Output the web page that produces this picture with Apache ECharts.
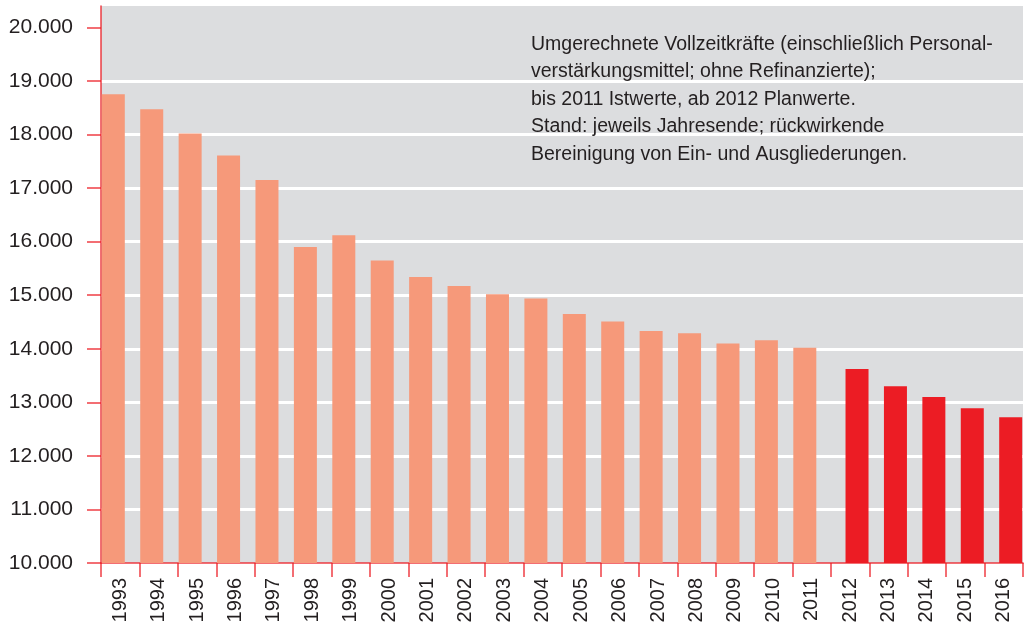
<!DOCTYPE html>
<html>
<head>
<meta charset="utf-8">
<script src="https://cdn.jsdelivr.net/npm/echarts@6/dist/echarts.min.js"></script>
<style>
  html, body { margin: 0; padding: 0; background: #ffffff; }
  #chart { width: 1026px; height: 628px; }
</style>
</head>
<body>
<div id="chart"></div>
<script>
// Jahre und Vollzeitkräfte (Istwerte bis 2011, Planwerte ab 2012)
const years = ['1993','1994','1995','1996','1997','1998','1999','2000','2001','2002','2003','2004',
               '2005','2006','2007','2008','2009','2010','2011','2012','2013','2014','2015','2016'];
const istwerte = [18750, 18470, 18020, 17610, 17150, 15900, 16120, 15650, 15340, 15170, 15020, 14940,
                  14650, 14510, 14330, 14290, 14100, 14160, 14020, null, null, null, null, null];
const planwerte = [null, null, null, null, null, null, null, null, null, null, null, null,
                   null, null, null, null, null, null, null, 13620, 13300, 13100, 12890, 12720];
const yTicks = [10000, 11000, 12000, 13000, 14000, 15000, 16000, 17000, 18000, 19000, 20000];

const noteLines = [
  'Umgerechnete Vollzeitkräfte (einschließlich Personal-',
  'verstärkungsmittel; ohne Refinanzierte);',
  'bis 2011 Istwerte, ab 2012 Planwerte.',
  'Stand: jeweils Jahresende; rückwirkende',
  'Bereinigung von Ein- und Ausgliederungen.'
];

const fmt = v => String(v).replace(/\B(?=(\d{3})+(?!\d))/g, '.');

const axisRed = 'rgba(236, 28, 36, 0.85)';
const fontFam = '"Liberation Sans", Arial, Helvetica, sans-serif';

const chart = echarts.init(document.getElementById('chart'));
chart.setOption({
  animation: false,
  title: {
    text: noteLines.join('\n'),
    left: 531,
    top: 31,
    padding: 0,
    textStyle: {
      fontFamily: fontFam,
      fontSize: 19.5,
      fontWeight: 'normal',
      color: '#231f20',
      lineHeight: 27.4
    }
  },
  grid: {
    left: 101,
    right: 3,
    top: 6,
    bottom: 65,
    show: true,
    backgroundColor: '#dcdddf',
    borderWidth: 0
  },
  xAxis: {
    type: 'category',
    data: years,
    boundaryGap: true,
    axisLine: { show: true, lineStyle: { color: axisRed, width: 1.5 } },
    axisTick: { show: true, length: 14, lineStyle: { color: axisRed, width: 1.5 } },
    axisLabel: {
      rotate: 90,
      margin: 15,
      interval: 0,
      fontFamily: fontFam,
      fontSize: 20,
      color: '#231f20'
    }
  },
  yAxis: {
    type: 'value',
    min: 10000,
    max: 20400,
    interval: 1000,
    axisLine: { show: true, lineStyle: { color: axisRed, width: 1.5 } },
    axisTick: {
      show: true,
      length: 14,
      customValues: yTicks,
      lineStyle: { color: axisRed, width: 1.5 }
    },
    axisLabel: {
      margin: 28,
      customValues: yTicks,
      fontFamily: fontFam,
      fontSize: 21,
      color: '#231f20',
      formatter: v => fmt(v)
    },
    splitLine: {
      show: true,
      showMaxLine: false,
      showMinLine: false,
      lineStyle: { color: '#ffffff', width: 3 }
    }
  },
  series: [
    {
      name: 'Istwerte',
      type: 'bar',
      data: istwerte,
      barWidth: 23,
      barGap: '-40%',
      itemStyle: { color: '#f6997a' }
    },
    {
      name: 'Planwerte',
      type: 'bar',
      data: planwerte,
      barWidth: 23,
      itemStyle: { color: '#ec1c24' }
    }
  ]
});
</script>
</body>
</html>
